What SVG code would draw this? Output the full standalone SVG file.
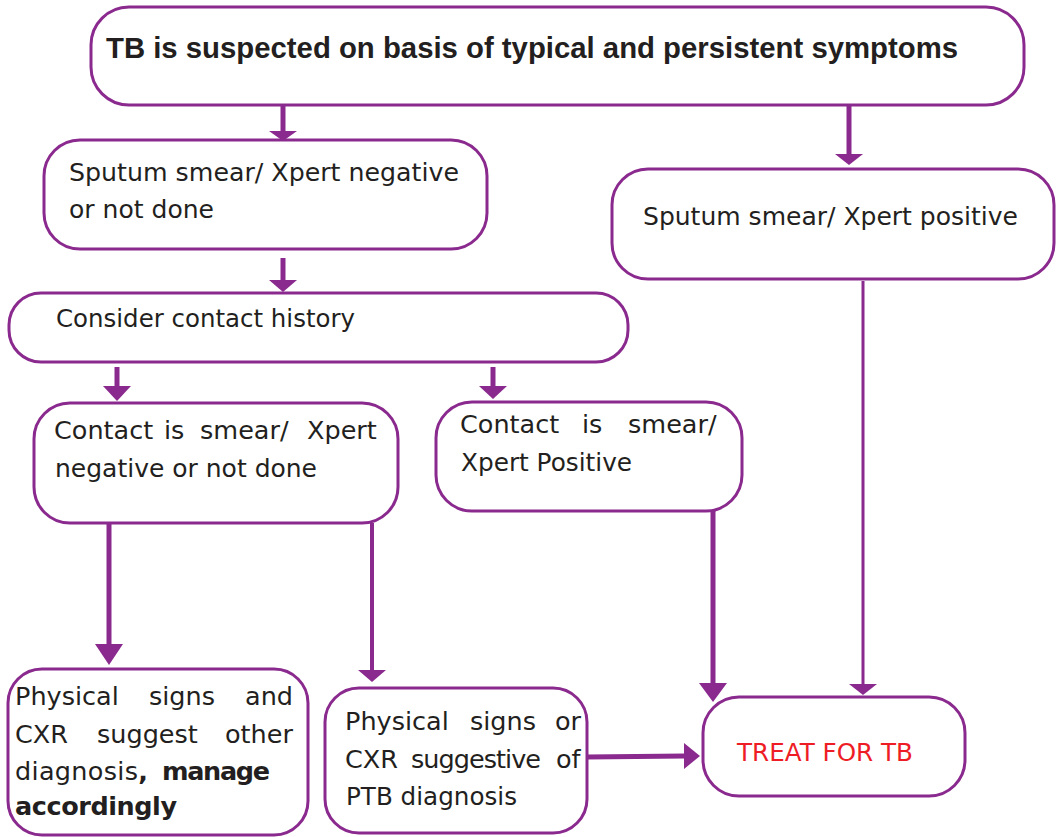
<svg xmlns="http://www.w3.org/2000/svg" width="1056" height="837" viewBox="0 0 1056 837">
<style>
.box{fill:#fff;stroke:#8B2A8E;stroke-width:3}
.t{font-family:"DejaVu Sans","Noto Sans",sans-serif;font-size:25.5px;fill:#231F20}
.b{font-weight:bold}
.title{font-family:"Liberation Sans",Arial,sans-serif;font-size:29px;font-weight:bold;fill:#231F20}
.red{fill:#EE1C25}
.c{stroke:#8B2A8E;fill:none}
.h{fill:#8B2A8E}
</style>
<rect width="1056" height="837" fill="#fff"/>
<g id="connectors">
  <line class="c" x1="283" y1="105" x2="283" y2="131" stroke-width="5"/>
  <polygon class="h" points="269,131 297,131 283,141"/>
  <line class="c" x1="849" y1="105" x2="849" y2="154" stroke-width="5"/>
  <polygon class="h" points="835,154 863,154 849,165"/>
  <line class="c" x1="283" y1="258" x2="283" y2="281" stroke-width="5"/>
  <polygon class="h" points="269,280 297,280 283,292"/>
  <line class="c" x1="117" y1="367" x2="117" y2="387" stroke-width="5"/>
  <polygon class="h" points="103,386 131,386 117,401"/>
  <line class="c" x1="493" y1="367" x2="493" y2="387" stroke-width="5"/>
  <polygon class="h" points="479,386 507,386 493,399"/>
  <line class="c" x1="109" y1="523" x2="109" y2="645" stroke-width="5"/>
  <polygon class="h" points="95,644 123,644 109,665"/>
  <line class="c" x1="372" y1="523" x2="372" y2="671" stroke-width="4"/>
  <polygon class="h" points="358,670 386,670 372,682"/>
  <line class="c" x1="713" y1="511" x2="713" y2="684" stroke-width="5"/>
  <polygon class="h" points="699,683 727,683 713,702"/>
  <line class="c" x1="863" y1="281" x2="863" y2="685" stroke-width="3"/>
  <polygon class="h" points="849,684 877,684 863,695"/>
  <line class="c" x1="587" y1="757" x2="685" y2="756" stroke-width="5"/>
  <polygon class="h" points="684,743 684,769 700,756"/>
</g>
<g id="n1">
  <rect class="box" x="91" y="7" width="933" height="98" rx="38"/>
  <text class="title" x="106" y="58" textLength="852" lengthAdjust="spacingAndGlyphs">TB is suspected on basis of typical and persistent symptoms</text>
</g>
<g id="n2">
  <rect class="box" x="44" y="140" width="443" height="109" rx="36"/>
  <text class="t" x="69" y="181" textLength="390" lengthAdjust="spacingAndGlyphs">Sputum smear/ Xpert negative</text>
  <text class="t" x="69" y="218" textLength="145" lengthAdjust="spacingAndGlyphs">or not done</text>
</g>
<g id="n3">
  <rect class="box" x="612" y="169" width="442" height="110" rx="36"/>
  <text class="t" x="643" y="225" textLength="375" lengthAdjust="spacingAndGlyphs">Sputum smear/ Xpert positive</text>
</g>
<g id="n4">
  <rect class="box" x="9" y="293" width="619" height="69" rx="32"/>
  <text class="t" x="56" y="327" textLength="299" lengthAdjust="spacingAndGlyphs">Consider contact history</text>
</g>
<g id="n5">
  <rect class="box" x="34" y="403" width="364" height="120" rx="36"/>
  <text class="t" y="439"><tspan x="54">Contact</tspan> <tspan x="164">is</tspan> <tspan x="200">smear/</tspan> <tspan x="307">Xpert</tspan></text>
  <text class="t" x="55" y="477" textLength="262" lengthAdjust="spacingAndGlyphs">negative or not done</text>
</g>
<g id="n6">
  <rect class="box" x="436" y="402" width="306" height="109" rx="36"/>
  <text class="t" y="433"><tspan x="460">Contact</tspan> <tspan x="582">is</tspan> <tspan x="628">smear/</tspan></text>
  <text class="t" x="461" y="471" textLength="171" lengthAdjust="spacingAndGlyphs">Xpert Positive</text>
</g>
<g id="n7">
  <rect class="box" x="8" y="669" width="300" height="166" rx="34"/>
  <text class="t" y="705"><tspan x="15">Physical</tspan> <tspan x="149">signs</tspan> <tspan x="245">and</tspan></text>
  <text class="t" y="743"><tspan x="15">CXR</tspan> <tspan x="97">suggest</tspan> <tspan x="225">other</tspan></text>
  <text class="t" y="780"><tspan x="15" textLength="133" lengthAdjust="spacing">diagnosis<tspan class="b">,</tspan></tspan> <tspan class="b" x="162" textLength="108" lengthAdjust="spacing">manage</tspan></text>
  <text class="t b" x="15" y="815" textLength="162" lengthAdjust="spacing">accordingly</text>
</g>
<g id="n8">
  <rect class="box" x="325" y="688" width="262" height="145" rx="34"/>
  <text class="t" y="730"><tspan x="345">Physical</tspan> <tspan x="470">signs</tspan> <tspan x="555">or</tspan></text>
  <text class="t" y="768"><tspan x="345">CXR</tspan> <tspan x="411" textLength="130" lengthAdjust="spacing">suggestive</tspan> <tspan x="556">of</tspan></text>
  <text class="t" x="346" y="805" textLength="171" lengthAdjust="spacingAndGlyphs">PTB diagnosis</text>
</g>
<g id="n9">
  <rect class="box" x="703" y="697" width="262" height="99" rx="36"/>
  <text class="t red" x="737" y="761" textLength="176" lengthAdjust="spacingAndGlyphs">TREAT FOR TB</text>
</g>
</svg>
